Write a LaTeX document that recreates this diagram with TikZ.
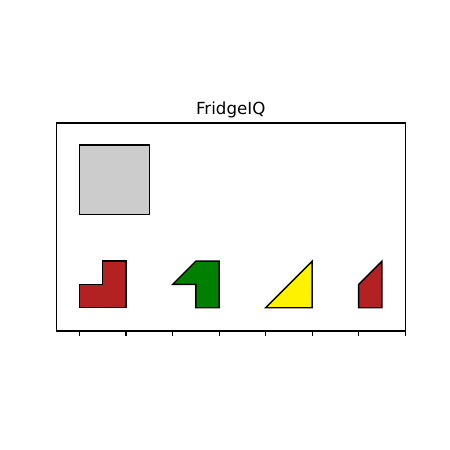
\documentclass[tikz,border=0pt]{standalone}
\usepackage{fontspec}
\setmainfont{DejaVu Sans}
\definecolor{firebrick}{RGB}{178,34,34}
\definecolor{mplgreen}{RGB}{0,128,0}
\definecolor{mplgray}{RGB}{204,204,204}
\begin{document}
\begin{tikzpicture}[x=0.72pt,y=-0.72pt,
  piece/.style={draw=black,line width=1pt,line join=miter},
  axisline/.style={draw=black,line width=0.8pt},
  tickline/.style={draw=black,line width=0.8pt}]
\useasboundingbox (0,0) rectangle (450,450);
\begin{scope}[shift={(79.5,307.7)},x=33.5pt,y=33.5pt]
  % gray square
  \draw[piece,fill=mplgray] (0,2) rectangle (1.5,3.5);
  % red L
  \draw[piece,fill=firebrick] (0,0) -- (1,0) -- (1,1) -- (0.5,1) -- (0.5,0.5) -- (0,0.5) -- cycle;
  % green piece
  \draw[piece,fill=mplgreen] (2,0.5) -- (2.5,1) -- (3,1) -- (3,0) -- (2.5,0) -- (2.5,0.5) -- cycle;
  % yellow triangle
  \draw[piece,fill=yellow] (4,0) -- (5,0) -- (5,1) -- cycle;
  % red quadrilateral
  \draw[piece,fill=firebrick] (6,0) -- (6.5,0) -- (6.5,1) -- (6,0.5) -- cycle;
  % axes frame
  \draw[axisline] (-0.5,-0.5) rectangle (7,3.97);
  \foreach \i in {0,...,7} {
    \draw[tickline] (\i,-0.5) -- ++(0pt,-3.5pt);
  }
  \node[anchor=base,font=\fontsize{12}{14}\selectfont,inner sep=0pt] (title) at (3.25,3.97) [yshift=6pt] {FridgeIQ};
\end{scope}
\end{tikzpicture}
\end{document}
